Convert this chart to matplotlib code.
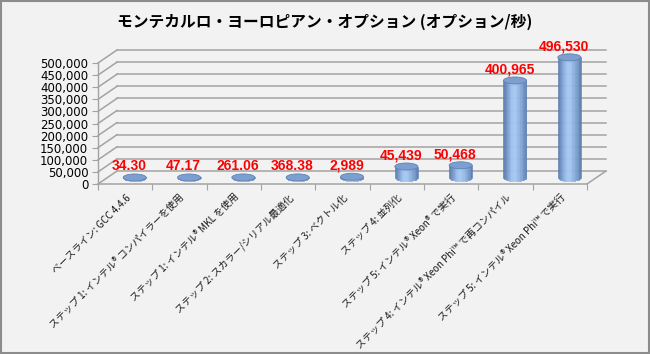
import numpy as np
import matplotlib
matplotlib.use("Agg")
import matplotlib.pyplot as plt
from matplotlib.patches import Ellipse, Rectangle
from matplotlib.colors import LinearSegmentedColormap

JP = ["Noto Sans CJK JP", "DejaVu Sans"]

title = "モンテカルロ・ヨーロピアン・オプション (オプション/秒)"
categories = [
    "ベースライン: GCC 4.4.6",
    "ステップ 1: インテル® コンパイラーを使用",
    "ステップ 1: インテル® MKL を使用",
    "ステップ 2: スカラー/シリアル最適化",
    "ステップ 3: ベクトル化",
    "ステップ 4: 並列化",
    "ステップ 5: インテル® Xeon® で実行",
    "ステップ 4: インテル® Xeon Phi™ で再コンパイル",
    "ステップ 5: インテル® Xeon Phi™ で実行",
]
values = [34.30, 47.17, 261.06, 368.38, 2989, 45439, 50468, 400965, 496530]
yticks = list(range(0, 500001, 50000))

W, H = 650, 354
BG = "#f2f2f2"
GRID = "#a3a3a3"

fig = plt.figure(figsize=(W / 100, H / 100), dpi=100)
fig.patch.set_facecolor(BG)

# front plane of the 3-D box, in pixels
x0, x1, y0, ytop = 98, 587, 184, 63
ax = fig.add_axes([x0 / W, (H - y0) / H, (x1 - x0) / W, (y0 - ytop) / H])
n = len(values)
ax.set_xlim(0, n)
ax.set_ylim(0, 500000)
ax.patch.set_alpha(0)
for s in ("top", "right", "bottom"):
    ax.spines[s].set_visible(False)
ax.spines["left"].set_color(GRID)
ax.spines["left"].set_linewidth(1)

# pixel -> data conversion
pxx = (x1 - x0) / n
pxy = (y0 - ytop) / 500000
dx, dy = 19 / pxx, 13 / pxy  # depth of the box

# back wall gridlines + left wall diagonals
for yv in yticks:
    ax.plot([dx, n + dx], [yv + dy, yv + dy], color=GRID, lw=1.1, clip_on=False, zorder=1)
    ax.plot([0, dx], [yv, yv + dy], color=GRID, lw=1.1, clip_on=False, zorder=1)
# floor
ax.plot([0, n], [0, 0], color=GRID, lw=1.1, clip_on=False, zorder=1)
ax.plot([n, n + dx], [0, dy], color=GRID, lw=1.1, clip_on=False, zorder=1)

# cylinders
cmap = LinearSegmentedColormap.from_list(
    "cyl", [(0, "#5577aa"), (0.35, "#9ec2ef"), (0.5, "#a7c9f2"), (0.8, "#7fa3d4"), (1, "#5a7cae")])
bw = 23 / pxx
eh = 7 / pxy
nstrip = 30
edges = np.linspace(-1, 1, nstrip + 1)
mids = (edges[:-1] + edges[1:]) / 2
for i, v in enumerate(values):
    cx = i + 0.5 + dx / 2
    base = dy / 2
    xs = cx + mids * bw / 2
    bottoms = base - eh / 2 * np.sqrt(1 - mids ** 2)
    cols = cmap((mids + 1) / 2)
    ax.bar(xs, base + v - bottoms, bottom=bottoms, width=bw / nstrip,
           color=cols, edgecolor=cols, linewidth=0.4, clip_on=False, zorder=3)
    ax.add_patch(Ellipse((cx, base + v), bw, eh, facecolor="#7c9fd0",
                         edgecolor="#5f82b5", lw=0.6, clip_on=False, zorder=4))
    label = f"{v:,.2f}" if v < 1000 else f"{v:,.0f}"
    ax.text(i + 0.5 + 4 / pxx, base + v + 11 / pxy, label, color="#ff0000",
            fontsize=10, fontweight="bold", family="Liberation Sans",
            ha="center", va="center", zorder=5, clip_on=False)

# axes ticks
ax.set_yticks(yticks)
ax.set_yticklabels([f"{t:,}" for t in yticks], fontsize=8.5, family="DejaVu Sans", color="#000000")
ax.tick_params(axis="y", length=4, color=GRID, pad=3)
ax.set_xticks(range(n + 1))
ax.set_xticklabels([])
ax.tick_params(axis="x", which="major", length=4, color=GRID)
ax.set_xticks([i + 0.5 for i in range(n)], minor=True)
ax.set_xticklabels(categories, minor=True, rotation=45, ha="right",
                   rotation_mode="anchor", fontsize=7, family=JP, color="#1a1a1a")
ax.tick_params(axis="x", which="minor", length=0, pad=6)

fig.text(0.5, 1 - 22 / H, title, ha="center", va="center", fontsize=11.3,
         fontweight="bold", family=JP)

fig.add_artist(Rectangle((0.0015, 0.003), 0.997, 0.994, transform=fig.transFigure,
                         fill=False, ec="#8c8c8c", lw=1.5))

fig.savefig("out.png", dpi=100, facecolor=fig.get_facecolor())
